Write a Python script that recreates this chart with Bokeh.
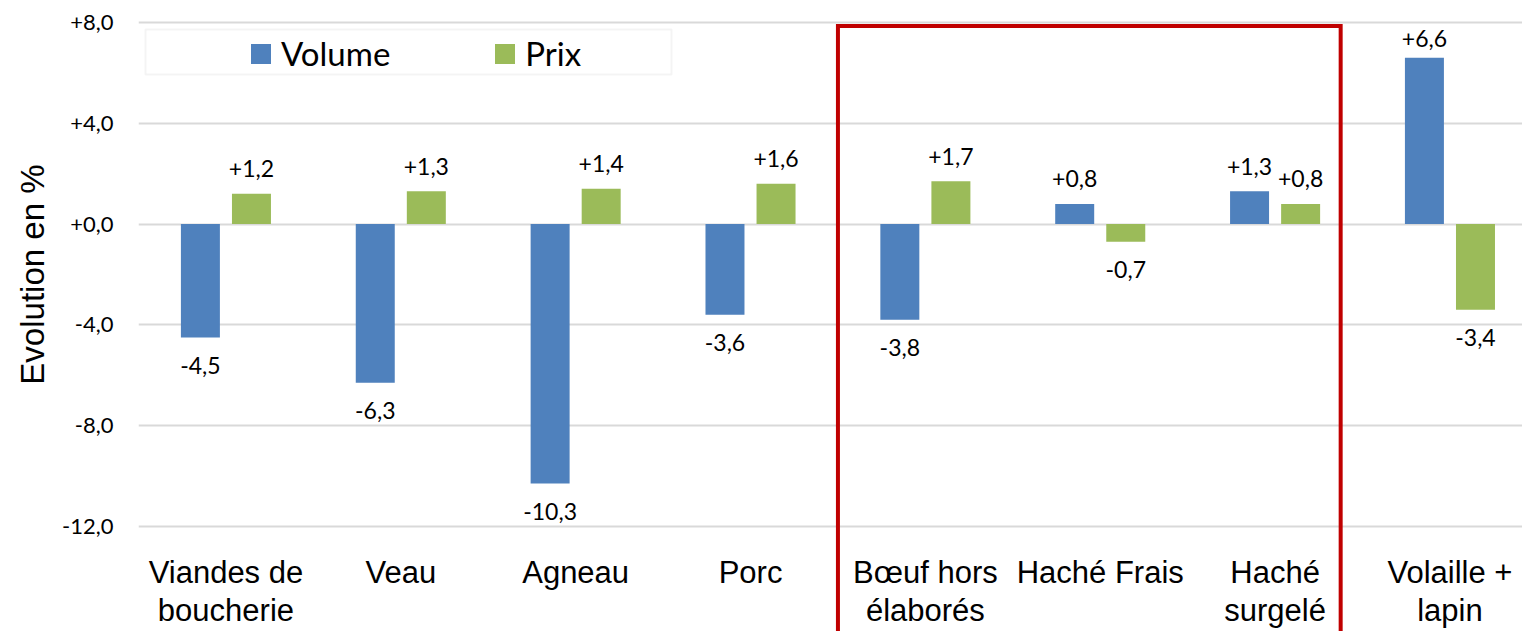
from bokeh.plotting import figure
from bokeh.models import ColumnDataSource, FixedTicker, Legend, LegendItem, BoxAnnotation, Range1d, Title
from bokeh.core.properties import value
from bokeh.embed import file_html
from bokeh.resources import INLINE

# ---------------- data ----------------
categories = ["Viandes de\nboucherie", "Veau", "Agneau", "Porc",
              "Bœuf hors\nélaborés", "Haché Frais", "Haché\nsurgelé", "Volaille +\nlapin"]
volume = [-4.5, -6.3, -10.3, -3.6, -3.8, 0.8, 1.3, 6.6]
prix = [1.2, 1.3, 1.4, 1.6, 1.7, -0.7, 0.8, -3.4]
series_names = ["Volume", "Prix"]
y_ticks = [-12, -8, -4, 0, 4, 8]
y_title = "Evolution en %"
highlight = ["Bœuf hors\nélaborés", "Haché Frais", "Haché\nsurgelé"]

# ---------------- layout / style ----------------
BLUE = "#4F81BD"
GREEN = "#9BBB59"
RED = "#C00000"
GRID = "#D9D9D9"
FRAME_W, FRAME_H = 1384, 617
X_START = -0.5
PX_PER_CAT = 174.86
X_END = X_START + FRAME_W / PX_PER_CAT
Y_END = 8.32
PX_PER_UNIT = 25.19
Y_START = Y_END - FRAME_H / PX_PER_UNIT
BAR_W = 0.223
BAR_OFF = 0.146
LABEL_UP_PX = 25
LABEL_DOWN_PX = 28
LABEL_TOP_LIMIT = 7.35
CAT_Y = -13.12
BOX_TOP = 7.86
BOX_RIGHT_PAD = 0.375
# legend frame, in pixels from the plot frame's top-left corner
LEG_L, LEG_R, LEG_T, LEG_B = 7, 533, 15, 60


def fmt(v):
    return f"{v:+.1f}".replace(".", ",")


idx = list(range(len(categories)))

p = figure(frame_width=FRAME_W, frame_height=FRAME_H,
           x_range=Range1d(X_START, X_END), y_range=Range1d(Y_START, Y_END),
           x_axis_location=None, output_backend="svg", toolbar_location=None,
           min_border_left=138, min_border_right=0, min_border_top=14, min_border_bottom=0)
p.outline_line_color = None
p.background_fill_color = "white"
p.border_fill_color = "white"
p.xgrid.visible = False
p.ygrid.grid_line_color = GRID
p.ygrid.grid_line_width = 2

ax = p.yaxis[0]
ax.ticker = FixedTicker(ticks=y_ticks)
ax.major_label_overrides = {t: fmt(t) for t in y_ticks}
ax.axis_line_color = None
ax.major_tick_line_color = None
ax.minor_tick_line_color = None
ax.major_label_standoff = 19
ax.major_label_text_font = "Lato"
ax.major_label_text_font_size = "22px"
ax.major_label_text_color = "black"

# y-axis title, placed along the gridded area like the original
p.add_layout(Title(text=y_title, align="right", offset=150, vertical_align="bottom",
                   standoff=18, text_font="Liberation Sans", text_font_size="33px",
                   text_font_style="normal", text_color="black"), "left")

src = ColumnDataSource(dict(
    xv=[i - BAR_OFF for i in idx], xp=[i + BAR_OFF for i in idx],
    volume=volume, prix=prix))
r_vol = p.vbar(x="xv", top="volume", bottom=0, width=BAR_W, source=src,
               fill_color=BLUE, line_color=None)
r_prix = p.vbar(x="xp", top="prix", bottom=0, width=BAR_W, source=src,
                fill_color=GREEN, line_color=None)

# data labels
lx, ly, lt = [], [], []
for xs, vals in ((src.data["xv"], volume), (src.data["xp"], prix)):
    for x, v in zip(xs, vals):
        lx.append(x)
        if v >= 0:
            ly.append(min(v + LABEL_UP_PX / PX_PER_UNIT, LABEL_TOP_LIMIT))
        else:
            ly.append(v - LABEL_DOWN_PX / PX_PER_UNIT)
        lt.append(fmt(v))
p.text(x=lx, y=ly, text=lt, text_align="center", text_baseline="middle",
       text_font=value("Lato"), text_font_size="23px", text_color="black")

# category labels
p.text(x=idx, y=[CAT_Y] * len(idx), text=categories, text_align="center",
       text_baseline="top", text_font=value("Liberation Sans"),
       text_font_size="31px", text_line_height=1.1, text_color="black")

# highlight box
h0 = categories.index(highlight[0]) - 0.5
h1 = categories.index(highlight[-1]) + BOX_RIGHT_PAD
p.line(x=[h0, h0, h1, h1], y=[Y_START - 1, BOX_TOP, BOX_TOP, Y_START - 1],
       line_color=RED, line_width=4, line_join="miter")

# legend
box = BoxAnnotation(left=X_START + LEG_L / PX_PER_CAT, right=X_START + LEG_R / PX_PER_CAT,
                    top=Y_END - LEG_T / PX_PER_UNIT, bottom=Y_END - LEG_B / PX_PER_UNIT,
                    fill_color="white", fill_alpha=1.0,
                    line_color=GRID, line_width=2)
p.add_layout(box)
legend = Legend(items=[LegendItem(label=series_names[0], renderers=[r_vol]),
                       LegendItem(label=series_names[1], renderers=[r_prix])],
                orientation="horizontal", location=(110, FRAME_H - 59),
                padding=0, margin=0, spacing=102,
                glyph_width=25, glyph_height=25, label_standoff=8,
                label_height=25,
                label_text_font="Lato", label_text_font_size="33px",
                label_text_color="black",
                border_line_color=None, background_fill_alpha=0)
p.add_layout(legend, "center")

open("out.html", "w").write(file_html(p, INLINE))
